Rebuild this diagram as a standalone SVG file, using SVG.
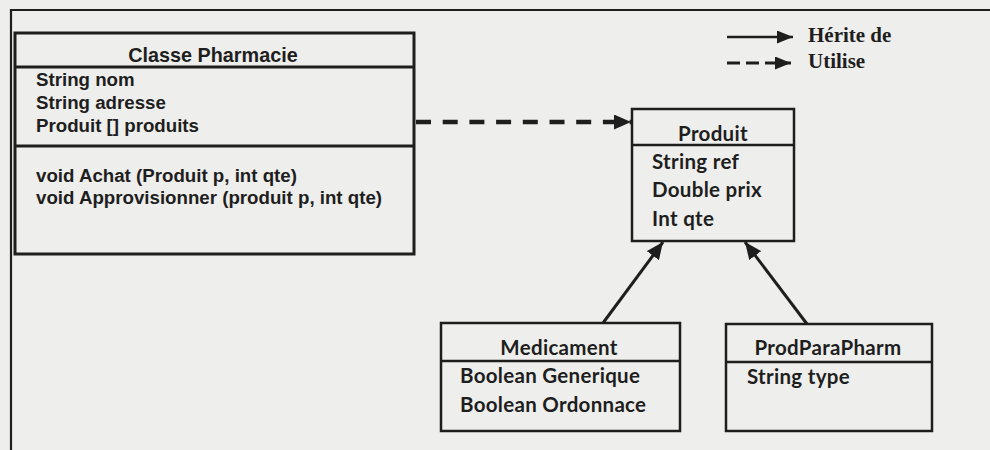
<svg xmlns="http://www.w3.org/2000/svg" width="990" height="450" viewBox="0 0 990 450">
<style>
.bg{fill:#eeeeec}
.box{fill:none;stroke:#1e1e1e;stroke-width:2.5}
.frame{fill:none;stroke:#1e1e1e;stroke-width:2.2}
.ar{font-family:"Liberation Sans",Arial,sans-serif;font-weight:bold;font-size:18.7px;fill:#1e1e1e}
.ca{font-family:Lato,"Open Sans",sans-serif;font-weight:bold;font-size:20.5px;letter-spacing:0.3px;fill:#1e1e1e}
.tm{font-family:"Liberation Serif","Times New Roman",serif;font-weight:bold;font-size:21px;fill:#1e1e1e}
.ln{stroke:#1e1e1e;stroke-width:2.5;fill:none}
</style>
<defs>
<marker id="tri" markerUnits="userSpaceOnUse" viewBox="0 0 16 13" markerWidth="16" markerHeight="13" refX="16" refY="6.5" orient="auto">
<path d="M0,0 L16,6.5 L0,13 z" fill="#1e1e1e"/>
</marker>
<marker id="tri2" markerUnits="userSpaceOnUse" viewBox="0 0 17 15" markerWidth="17" markerHeight="15" refX="17" refY="7.5" orient="auto">
<path d="M0,0 L17,7.5 L0,15 z" fill="#1e1e1e"/>
</marker>
</defs>
<rect class="bg" x="0" y="0" width="990" height="450"/>
<g id="frame">
<polyline class="frame" points="11,452 11,10 992,10"/>
</g>
<g id="pharmacie">
<rect class="box" x="15" y="33" width="399" height="221" style="stroke-width:3"/>
<line class="box" x1="15" y1="67" x2="414" y2="67" style="stroke-width:3"/>
<line class="box" x1="15" y1="146" x2="414" y2="146" style="stroke-width:3"/>
<text class="ar" x="213" y="62" text-anchor="middle" style="font-size:19.8px">Classe Pharmacie</text>
<text class="ar" x="36" y="86">String nom</text>
<text class="ar" x="36" y="109">String adresse</text>
<text class="ar" x="36" y="132">Produit [] produits</text>
<text class="ar" x="36" y="182">void Achat (Produit p, int qte)</text>
<text class="ar" x="36" y="204">void Approvisionner (produit p, int qte)</text>
</g>
<g id="produit">
<rect class="box" x="632" y="109" width="162" height="132"/>
<line class="box" x1="632" y1="145" x2="794" y2="145"/>
<text class="ca" x="713" y="141" text-anchor="middle">Produit</text>
<text class="ca" x="652" y="169">String ref</text>
<text class="ca" x="652" y="197">Double prix</text>
<text class="ca" x="652" y="226">Int qte</text>
</g>
<g id="medicament">
<rect class="box" x="441" y="323" width="239" height="108"/>
<line class="box" x1="441" y1="361" x2="680" y2="361"/>
<text class="ca" x="559" y="355" text-anchor="middle">Medicament</text>
<text class="ca" x="460" y="383">Boolean Generique</text>
<text class="ca" x="460" y="412">Boolean Ordonnace</text>
</g>
<g id="prodparapharm">
<rect class="box" x="726" y="324" width="206" height="107"/>
<line class="box" x1="726" y1="362" x2="932" y2="362"/>
<text class="ca" x="828" y="355" text-anchor="middle">ProdParaPharm</text>
<text class="ca" x="747" y="384">String type</text>
</g>
<g id="legend">
<line class="ln" x1="727" y1="37" x2="793" y2="37" marker-end="url(#tri)"/>
<line class="ln" x1="727" y1="63" x2="791" y2="63" stroke-dasharray="13 6" marker-end="url(#tri)" style="stroke-width:3"/>
<text class="tm" x="808" y="42">Hérite de</text>
<text class="tm" x="808" y="68">Utilise</text>
</g>
<g id="connectors">
<line class="ln" x1="416" y1="122" x2="631" y2="122" stroke-dasharray="15 11.7" marker-end="url(#tri2)" style="stroke-width:4.5"/>
<line class="ln" x1="603" y1="323" x2="663" y2="242" marker-end="url(#tri2)" style="stroke-width:3"/>
<line class="ln" x1="807" y1="324" x2="745" y2="242" marker-end="url(#tri2)" style="stroke-width:3"/>
</g>
</svg>
